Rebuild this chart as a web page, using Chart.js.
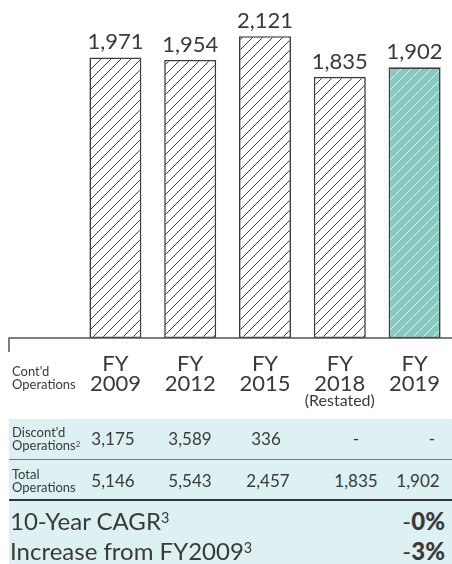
<!DOCTYPE html>
<html>
<head>
<meta charset="utf-8">
<script src="https://cdn.jsdelivr.net/npm/chart.js@4.4.1/dist/chart.umd.min.js"></script>
<style>
  html, body { margin: 0; padding: 0; background: #fff; }
  body { width: 452px; height: 564px; position: relative; overflow: hidden; font-family: Lato, sans-serif; color: #3a3a3a; }
  #chartBox { position: absolute; left: 0; top: 0; width: 452px; height: 411px; }
  .small { position: absolute; font-size: 13px; line-height: 12.5px; white-space: nowrap; }
  .band { position: absolute; left: 9px; top: 419px; width: 443px; height: 145px; background: #ddf0f2; }
  .rule { position: absolute; left: 9px; width: 443px; }
  .cell { position: absolute; font-size: 17px; transform: translate(-50%, -50%); white-space: nowrap; }
  .big { position: absolute; left: 10px; font-size: 24px; white-space: nowrap; transform: translateY(-50%); }
  .bigv { position: absolute; right: 7px; font-size: 24px; white-space: nowrap; transform: translateY(-50%); }
  .bigv b { font-weight: 900; }
  sup { font-size: 0.6em; vertical-align: 0.45em; line-height: 0; }
</style>
</head>
<body>
<div id="chartBox"><canvas id="chart" width="452" height="411"></canvas></div>

<div class="small" style="left:12px; top:365px;">Cont'd<br>Operations</div>

<div class="band"></div>
<div class="rule" style="top:459px; height:1px; background:#7a7a7a;"></div>
<div class="rule" style="top:499px; height:2px; background:#333;"></div>

<div class="small" style="left:12px; top:426px;">Discont'd<br>Operations<sup>2</sup></div>
<div class="small" style="left:12px; top:468px;">Total<br>Operations</div>
<div id="tableCells"></div>

<div class="big" style="top:520px;">10-Year CAGR<sup>3</sup></div>
<div class="big" style="top:550px;">Increase from FY2009<sup>3</sup></div>
<div class="bigv" id="cagrVal" style="top:520px;"></div>
<div class="bigv" id="incVal" style="top:550px;"></div>

<script>
// data
const years = ['2009', '2012', '2015', '2018', '2019'];
const contOps = [1971, 1954, 2121, 1835, 1902];
const discontOps = [3175, 3589, 336, null, null];
const totalOps = [5146, 5543, 2457, 1835, 1902];
const cagrSign = '-', cagrNum = '0%';
const incSign = '-', incNum = '3%';

// column centres of the table under the chart
const discX = [113, 190, 266, 356, 432];
const totalX = [113, 190, 268, 356, 418];

const fmt = v => v == null ? '-' : v.toLocaleString('en-US');

function hatch(bg, line) {
  const s = 10;
  const c = document.createElement('canvas');
  c.width = s; c.height = s;
  const g = c.getContext('2d');
  g.fillStyle = bg;
  g.fillRect(0, 0, s, s);
  g.strokeStyle = line;
  g.lineWidth = 1;
  g.beginPath();
  g.moveTo(-1, s + 1); g.lineTo(s + 1, -1);
  g.moveTo(-1, 1); g.lineTo(1, -1);
  g.moveTo(s - 1, s + 1); g.lineTo(s + 1, s - 1);
  g.stroke();
  return g.createPattern(c, 'repeat');
}

const plain = hatch('#ffffff', '#3a3a3a');
const teal = hatch('#8bc8c0', 'rgba(255,255,255,0.9)');

const axisLine = {
  id: 'axisLine',
  afterDatasetsDraw(chart) {
    const ctx = chart.ctx;
    const y = chart.chartArea.bottom;
    ctx.save();
    ctx.strokeStyle = '#555';
    ctx.lineWidth = 1.5;
    ctx.beginPath();
    ctx.moveTo(9, y + 14);
    ctx.lineTo(9, y);
    ctx.lineTo(452, y);
    ctx.stroke();
    ctx.restore();
  }
};

const valueLabels = {
  id: 'valueLabels',
  afterDatasetsDraw(chart) {
    const ctx = chart.ctx;
    const meta = chart.getDatasetMeta(0);
    ctx.save();
    ctx.fillStyle = '#3a3a3a';
    ctx.font = '22px Lato';
    ctx.textAlign = 'center';
    ctx.textBaseline = 'alphabetic';
    meta.data.forEach((bar, i) => {
      ctx.fillText(fmt(contOps[i]), bar.x, bar.y - 8);
    });
    // restated note under FY2018
    const x = chart.scales.x.getPixelForValue(3);
    ctx.font = '16px Lato';
    ctx.textBaseline = 'middle';
    ctx.fillText('(Restated)', x, 401);
    ctx.restore();
  }
};

const ctx = document.getElementById('chart').getContext('2d');
new Chart(ctx, {
  type: 'bar',
  data: {
    labels: years.map(y => ['FY', y]),
    datasets: [{
      data: contOps,
      backgroundColor: years.map((y, i) => i === years.length - 1 ? teal : plain),
      borderColor: '#3d3d3d',
      borderWidth: 1.6,
      borderSkipped: false,
      barPercentage: 0.695,
      categoryPercentage: 1
    }]
  },
  options: {
    responsive: false,
    animation: false,
    devicePixelRatio: 1,
    layout: { padding: { left: 78, right: 0, top: 0, bottom: 0 } },
    plugins: { legend: { display: false }, tooltip: { enabled: false } },
    scales: {
      x: {
        grid: { display: false },
        border: { display: false },
        afterFit(scale) { scale.height = 73; },
        ticks: {
          color: '#3a3a3a',
          font: { family: 'Lato', size: 22, lineHeight: 0.92 },
          padding: 8,
          maxRotation: 0,
          autoSkip: false
        }
      },
      y: { display: false, min: 0, max: 2375 }
    }
  },
  plugins: [axisLine, valueLabels]
});

// table cells
const cells = document.getElementById('tableCells');
discontOps.forEach((v, i) => {
  const d = document.createElement('div');
  d.className = 'cell';
  d.style.left = discX[i] + 'px';
  d.style.top = '438px';
  d.textContent = fmt(v);
  cells.appendChild(d);
});
totalOps.forEach((v, i) => {
  const d = document.createElement('div');
  d.className = 'cell';
  d.style.left = totalX[i] + 'px';
  d.style.top = '480px';
  d.textContent = fmt(v);
  cells.appendChild(d);
});
document.getElementById('cagrVal').innerHTML = cagrSign + '<b>' + cagrNum + '</b>';
document.getElementById('incVal').innerHTML = incSign + '<b>' + incNum + '</b>';
</script>
</body>
</html>
